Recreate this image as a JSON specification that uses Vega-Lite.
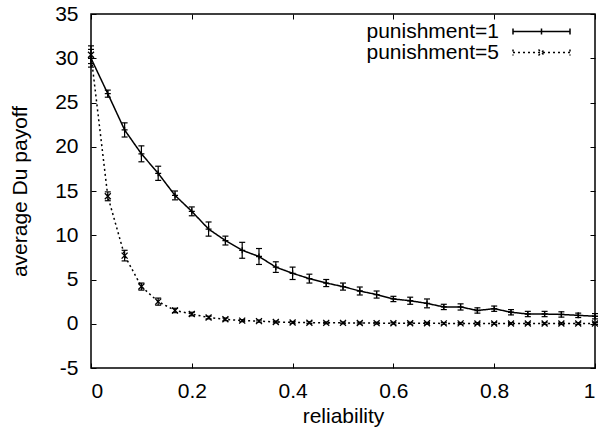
{
  "$schema": "https://vega.github.io/schema/vega-lite/v6.json",
  "width": 504,
  "height": 354,
  "autosize": {"type": "none"},
  "padding": {"left": 91, "top": 14, "right": 3, "bottom": 67},
  "background": "white",
  "config": {
    "view": {"stroke": "black", "strokeWidth": 1.5},
    "font": "Liberation Sans",
    "axis": {
      "grid": false, "domain": false, "tickColor": "black", "tickSize": -5, "tickWidth": 1,
      "labelColor": "black", "labelFont": "Liberation Sans", "labelFontSize": 21,
      "titleFont": "Liberation Sans", "titleFontSize": 21, "titleFontWeight": "normal", "titleColor": "black"
    }
  },
  "data": {"values": [
    {"series": "punishment=1", "r": 0, "y": 30.0, "lo": 29.0, "hi": 31.0},
    {"series": "punishment=1", "r": 0.0333, "y": 26.0, "lo": 25.6, "hi": 26.4},
    {"series": "punishment=1", "r": 0.0667, "y": 21.9, "lo": 21.1, "hi": 22.7},
    {"series": "punishment=1", "r": 0.1, "y": 19.2, "lo": 18.3, "hi": 20.1},
    {"series": "punishment=1", "r": 0.1333, "y": 17.0, "lo": 16.2, "hi": 17.8},
    {"series": "punishment=1", "r": 0.1667, "y": 14.5, "lo": 14.0, "hi": 15.0},
    {"series": "punishment=1", "r": 0.2, "y": 12.7, "lo": 12.2, "hi": 13.2},
    {"series": "punishment=1", "r": 0.2333, "y": 10.7, "lo": 9.9, "hi": 11.5},
    {"series": "punishment=1", "r": 0.2667, "y": 9.4, "lo": 8.9, "hi": 9.9},
    {"series": "punishment=1", "r": 0.3, "y": 8.3, "lo": 7.4, "hi": 9.2},
    {"series": "punishment=1", "r": 0.3333, "y": 7.6, "lo": 6.7, "hi": 8.5},
    {"series": "punishment=1", "r": 0.3667, "y": 6.4, "lo": 5.8, "hi": 7.0},
    {"series": "punishment=1", "r": 0.4, "y": 5.7, "lo": 5.0, "hi": 6.4},
    {"series": "punishment=1", "r": 0.4333, "y": 5.1, "lo": 4.6, "hi": 5.6},
    {"series": "punishment=1", "r": 0.4667, "y": 4.6, "lo": 4.2, "hi": 5.0},
    {"series": "punishment=1", "r": 0.5, "y": 4.2, "lo": 3.8, "hi": 4.6},
    {"series": "punishment=1", "r": 0.5333, "y": 3.7, "lo": 3.25, "hi": 4.15},
    {"series": "punishment=1", "r": 0.5667, "y": 3.3, "lo": 2.9, "hi": 3.7},
    {"series": "punishment=1", "r": 0.6, "y": 2.8, "lo": 2.5, "hi": 3.1},
    {"series": "punishment=1", "r": 0.6333, "y": 2.6, "lo": 2.2, "hi": 3.0},
    {"series": "punishment=1", "r": 0.6667, "y": 2.3, "lo": 1.8, "hi": 2.8},
    {"series": "punishment=1", "r": 0.7, "y": 1.9, "lo": 1.6, "hi": 2.2},
    {"series": "punishment=1", "r": 0.7333, "y": 1.9, "lo": 1.55, "hi": 2.25},
    {"series": "punishment=1", "r": 0.7667, "y": 1.5, "lo": 1.2, "hi": 1.8},
    {"series": "punishment=1", "r": 0.8, "y": 1.7, "lo": 1.4, "hi": 2.0},
    {"series": "punishment=1", "r": 0.8333, "y": 1.3, "lo": 1.0, "hi": 1.6},
    {"series": "punishment=1", "r": 0.8667, "y": 1.1, "lo": 0.8, "hi": 1.4},
    {"series": "punishment=1", "r": 0.9, "y": 1.1, "lo": 0.8, "hi": 1.4},
    {"series": "punishment=1", "r": 0.9333, "y": 1.05, "lo": 0.75, "hi": 1.35},
    {"series": "punishment=1", "r": 0.9667, "y": 0.95, "lo": 0.7, "hi": 1.2},
    {"series": "punishment=1", "r": 1, "y": 0.85, "lo": 0.55, "hi": 1.15},
    {"series": "punishment=5", "r": 0, "y": 30.4, "lo": 29.4, "hi": 31.4},
    {"series": "punishment=5", "r": 0.0333, "y": 14.4, "lo": 13.9, "hi": 14.9},
    {"series": "punishment=5", "r": 0.0667, "y": 7.7, "lo": 7.1, "hi": 8.3},
    {"series": "punishment=5", "r": 0.1, "y": 4.2, "lo": 3.8, "hi": 4.6},
    {"series": "punishment=5", "r": 0.1333, "y": 2.5, "lo": 2.1, "hi": 2.9},
    {"series": "punishment=5", "r": 0.1667, "y": 1.5, "lo": 1.25, "hi": 1.75},
    {"series": "punishment=5", "r": 0.2, "y": 1.1, "lo": 0.9, "hi": 1.3},
    {"series": "punishment=5", "r": 0.2333, "y": 0.7, "lo": 0.55, "hi": 0.85},
    {"series": "punishment=5", "r": 0.2667, "y": 0.5, "lo": 0.35, "hi": 0.65},
    {"series": "punishment=5", "r": 0.3, "y": 0.35, "lo": 0.23, "hi": 0.47},
    {"series": "punishment=5", "r": 0.3333, "y": 0.3, "lo": 0.18, "hi": 0.42},
    {"series": "punishment=5", "r": 0.3667, "y": 0.2, "lo": 0.1, "hi": 0.3},
    {"series": "punishment=5", "r": 0.4, "y": 0.15, "lo": 0.05, "hi": 0.25},
    {"series": "punishment=5", "r": 0.4333, "y": 0.12, "lo": 0.02, "hi": 0.22},
    {"series": "punishment=5", "r": 0.4667, "y": 0.1, "lo": 0.0, "hi": 0.2},
    {"series": "punishment=5", "r": 0.5, "y": 0.1, "lo": 0.0, "hi": 0.2},
    {"series": "punishment=5", "r": 0.5333, "y": 0.08, "lo": -0.02, "hi": 0.18},
    {"series": "punishment=5", "r": 0.5667, "y": 0.07, "lo": -0.03, "hi": 0.17},
    {"series": "punishment=5", "r": 0.6, "y": 0.06, "lo": -0.04, "hi": 0.16},
    {"series": "punishment=5", "r": 0.6333, "y": 0.06, "lo": -0.04, "hi": 0.16},
    {"series": "punishment=5", "r": 0.6667, "y": 0.05, "lo": -0.05, "hi": 0.15},
    {"series": "punishment=5", "r": 0.7, "y": 0.04, "lo": -0.06, "hi": 0.14},
    {"series": "punishment=5", "r": 0.7333, "y": 0.04, "lo": -0.06, "hi": 0.14},
    {"series": "punishment=5", "r": 0.7667, "y": 0.03, "lo": -0.07, "hi": 0.13},
    {"series": "punishment=5", "r": 0.8, "y": 0.03, "lo": -0.07, "hi": 0.13},
    {"series": "punishment=5", "r": 0.8333, "y": 0.03, "lo": -0.07, "hi": 0.13},
    {"series": "punishment=5", "r": 0.8667, "y": 0.02, "lo": -0.08, "hi": 0.12},
    {"series": "punishment=5", "r": 0.9, "y": 0.02, "lo": -0.08, "hi": 0.12},
    {"series": "punishment=5", "r": 0.9333, "y": 0.02, "lo": -0.08, "hi": 0.12},
    {"series": "punishment=5", "r": 0.9667, "y": 0.02, "lo": -0.08, "hi": 0.12},
    {"series": "punishment=5", "r": 1, "y": 0.02, "lo": -0.08, "hi": 0.12}
  ]},
  "resolve": {"axis": {"x": "independent", "y": "independent"}},
  "layer": [
    {
      "mark": {"type": "line", "color": "black", "strokeWidth": 1.5},
      "encoding": {
        "x": {"field": "r", "type": "quantitative", "scale": {"domain": [0, 1], "nice": false},
              "axis": {"title": "reliability", "values": [0, 0.2, 0.4, 0.6, 0.8, 1], "format": "~g", "labelPadding": 17, "titlePadding": 4}},
        "y": {"field": "y", "type": "quantitative", "scale": {"domain": [-5, 35], "nice": false, "zero": false},
              "axis": {"title": "average Du payoff", "values": [-5, 0, 5, 10, 15, 20, 25, 30, 35], "labelPadding": 18, "titlePadding": 24,
                       "labelExpr": "datum.value < 0 ? '-' + abs(datum.value) : '' + datum.value"}},
        "strokeDash": {"field": "series", "type": "nominal",
          "scale": {"domain": ["punishment=1", "punishment=5"], "range": [[1, 0], [2, 3]]},
          "legend": {
            "title": null, "orient": "none", "legendX": 439.5, "legendY": 6.5, "padding": 0,
            "labelAlign": "right", "labelOffset": -53.5, "labelFontSize": 21, "labelFont": "Liberation Sans",
            "labelColor": "black", "labelLimit": 300, "symbolSize": 400, "symbolStrokeColor": "black",
            "symbolStrokeWidth": 1.5, "symbolFillColor": "transparent", "rowPadding": 0,
            "encode": {"symbols": {"update": {"shape": {"signal": "datum.value === 'punishment=1' ? 'M-2.85,0H2.85M-2.85,-0.3V0.3M2.85,-0.3V0.3M0,-0.3V0.3' : 'M-2.85,0H2.85M-2.85,-0.3V0.3M2.85,-0.3V0.3M-0.3,-0.3L0.3,0.3M-0.3,0.3L0.3,-0.3'"}}}}
          }}
      }
    },
    {
      "mark": {"type": "rule", "color": "black", "strokeWidth": 1.2},
      "encoding": {
        "x": {"field": "r", "type": "quantitative", "axis": {"orient": "top", "labels": false, "title": null, "values": [0, 0.2, 0.4, 0.6, 0.8, 1]}},
        "y": {"field": "lo", "type": "quantitative", "axis": {"orient": "right", "labels": false, "title": null, "values": [-5, 0, 5, 10, 15, 20, 25, 30, 35]}},
        "y2": {"field": "hi"}
      }
    },
    {
      "mark": {"type": "tick", "orient": "horizontal", "size": 6, "thickness": 1.2, "color": "black", "opacity": 1},
      "encoding": {
        "x": {"field": "r", "type": "quantitative", "axis": null},
        "y": {"field": "lo", "type": "quantitative", "axis": null}
      }
    },
    {
      "mark": {"type": "tick", "orient": "horizontal", "size": 6, "thickness": 1.2, "color": "black", "opacity": 1},
      "encoding": {
        "x": {"field": "r", "type": "quantitative", "axis": null},
        "y": {"field": "hi", "type": "quantitative", "axis": null}
      }
    },
    {
      "transform": [{"filter": "datum.series === 'punishment=1'"}],
      "mark": {"type": "point", "shape": "M-1,0H1M0,-1V1", "filled": false, "color": "black", "strokeWidth": 1.3, "opacity": 1, "size": 36},
      "encoding": {
        "x": {"field": "r", "type": "quantitative", "axis": null},
        "y": {"field": "y", "type": "quantitative", "axis": null}
      }
    },
    {
      "transform": [{"filter": "datum.series === 'punishment=5'"}],
      "mark": {"type": "point", "shape": "M-1,-1L1,1M-1,1L1,-1", "filled": false, "color": "black", "strokeWidth": 1.3, "opacity": 1, "size": 36},
      "encoding": {
        "x": {"field": "r", "type": "quantitative", "axis": null},
        "y": {"field": "y", "type": "quantitative", "axis": null}
      }
    }
  ]
}
